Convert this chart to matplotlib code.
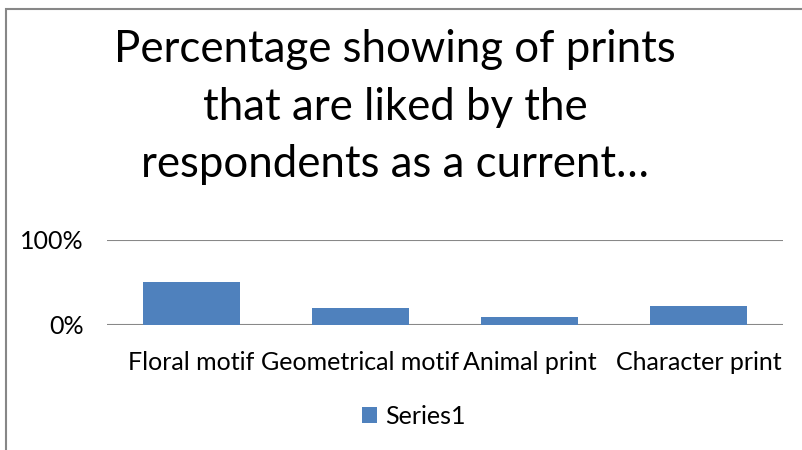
import matplotlib
matplotlib.use("Agg")
import matplotlib.pyplot as plt
from matplotlib.patches import Rectangle, Patch

categories = ["Floral motif", "Geometrical motif", "Animal print", "Character print"]
values = [0.50, 0.19, 0.087, 0.22]
series_name = "Series1"
title_lines = ["Percentage showing of prints", "that are liked by the", "respondents as a current\u2026"]
ytick_vals = [0, 1]
ytick_labels = ["0%", "100%"]

W, H = 803, 450
plt.rcParams['font.family'] = ['Lato', 'DejaVu Sans']
fig = plt.figure(figsize=(W / 100, H / 100), dpi=100)
fig.patch.set_facecolor('white')

# chart border (only left and top visible)
fig.patches.append(Rectangle((6 / W, -0.1), 1.2, (H - 9) / H + 0.1, transform=fig.transFigure,
                             fill=False, edgecolor='#878787', linewidth=1.5))

x0, x1 = 107, 783
ytop, ybot = 239.5, 324.5
ax = fig.add_axes([x0 / W, (H - ybot) / H, (x1 - x0) / W, (ybot - ytop) / H])
ax.set_facecolor('none')
bar_color = '#4F81BD'
xs = range(len(categories))
ax.bar(xs, values, width=0.575, color=bar_color, zorder=3)
ax.set_xlim(-0.5, len(categories) - 0.5)
ax.set_ylim(0, 1)
ax.set_yticks(ytick_vals)
ax.set_yticklabels(ytick_labels, fontsize=18)
ax.set_xticks(list(xs))
ax.set_xticklabels(categories, fontsize=18)
ax.tick_params(axis='both', length=0)
ax.tick_params(axis='y', pad=17)
ax.tick_params(axis='x', pad=19)
for s in ax.spines.values():
    s.set_visible(False)
for v in ytick_vals:
    ax.axhline(v, color='#888888', linewidth=1.5, zorder=2)

# title
baselines = [62, 120, 177]
for line, b in zip(title_lines, baselines):
    fig.text(395 / W, (H - b) / H, line, ha='center', va='baseline', fontsize=31.5, color='black')

leg = fig.legend(handles=[Patch(facecolor=bar_color, label=series_name)], loc='center',
                 bbox_to_anchor=(414 / W, (H - 416) / H), frameon=False, fontsize=18,
                 handlelength=0.6, handleheight=0.6, handletextpad=0.3,
                 borderpad=0, borderaxespad=0)

fig.savefig("out.png", dpi=100)
